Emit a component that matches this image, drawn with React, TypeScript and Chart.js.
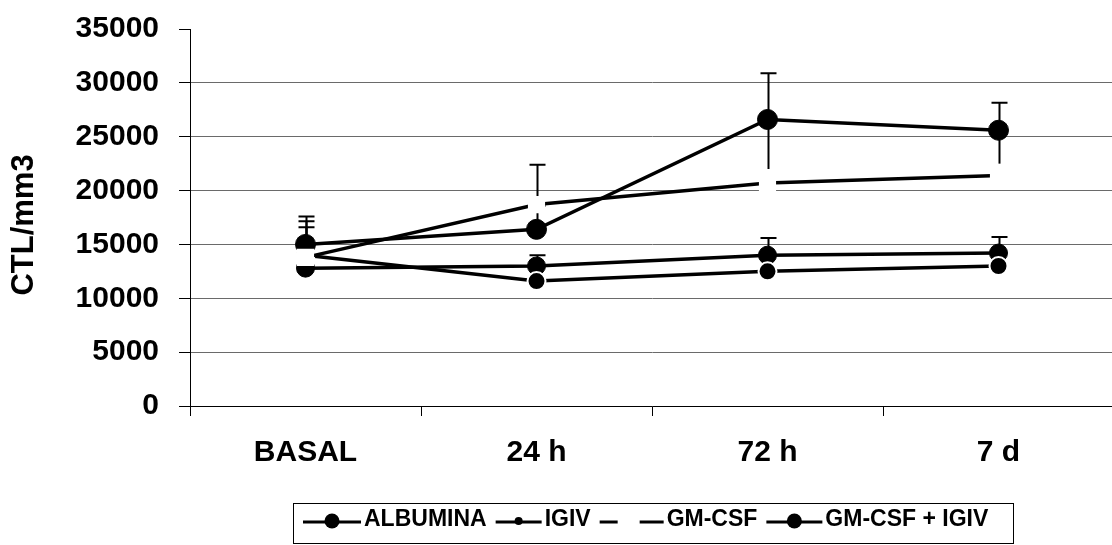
import React, { useEffect, useRef } from 'react';
import { Chart, registerables } from 'chart.js';

Chart.register(...registerables);

// ---- data ----
const categories = ['BASAL', '24 h', '72 h', '7 d'];
const seriesNames = ['ALBUMINA', 'IGIV', 'GM-CSF', 'GM-CSF + IGIV'];
const albumina = [12800, 13000, 14000, 14200];
const albuminaErr = [3800, 1000, 1600, 1500];
const igiv = [14000, 11600, 12500, 13000];
const igivErr = [0, 0, 0, 0];
const gmcsf = [13800, 18700, 20700, 21400];
const gmcsfErr = [3350, 3700, 0, 0];
const gmcsfIgiv = [15000, 16400, 26600, 25600];
const gmcsfIgivErr = [2600, 2200, 4300, 2550];
const gmcsfIgivErrLow = [0, 0, 4600, 3100];
const yMin = 0;
const yMax = 35000;
const yStep = 5000;
const yTitle = 'CTL/mm3';

const FONT = '"Liberation Sans", Arial, sans-serif';

const errorBarsPlugin = {
  id: 'errorBars',
  beforeDatasetsDraw(chart: any) {
    const { ctx, scales } = chart;
    const y = scales.y;
    ctx.save();
    ctx.strokeStyle = '#000';
    ctx.lineWidth = 2;
    chart.data.datasets.forEach((ds: any, i: number) => {
      const errs: number[] = ds.errors;
      if (!errs) return;
      const lows: number[] = ds.errorsLow || [];
      const meta = chart.getDatasetMeta(i);
      meta.data.forEach((pt: any, j: number) => {
        const e = errs[j];
        const lo = lows[j] || 0;
        const v = ds.data[j];
        const px = Math.round(pt.x) + 0.5;
        const yc = y.getPixelForValue(v);
        if (e) {
          const yt = y.getPixelForValue(v + e);
          ctx.beginPath();
          ctx.moveTo(px, yc);
          ctx.lineTo(px, yt);
          ctx.moveTo(px - 8, yt);
          ctx.lineTo(px + 8, yt);
          ctx.stroke();
        }
        if (lo) {
          const yb = y.getPixelForValue(v - lo);
          ctx.beginPath();
          ctx.moveTo(px, yc);
          ctx.lineTo(px, yb);
          ctx.stroke();
        }
      });
    });
    ctx.restore();
  },
};

const titlePlugin = {
  id: 'yTitle',
  afterDraw(chart: any) {
    const ctx = chart.ctx;
    ctx.save();
    ctx.translate(24, 225);
    ctx.rotate(-Math.PI / 2);
    ctx.font = `bold 31px ${FONT}`;
    ctx.fillStyle = '#000';
    ctx.textAlign = 'center';
    ctx.textBaseline = 'middle';
    ctx.fillText(yTitle, 0, 0);
    ctx.restore();
  },
};

const legendPlugin = {
  id: 'boxLegend',
  afterDraw(chart: any) {
    const ctx = chart.ctx;
    ctx.save();
    ctx.strokeStyle = '#000';
    ctx.lineWidth = 1;
    ctx.strokeRect(293.5, 503.5, 720, 40);
    ctx.font = `bold 23px ${FONT}`;
    ctx.fillStyle = '#000';
    ctx.textBaseline = 'alphabetic';
    ctx.textAlign = 'left';
    const symbols = [
      { kind: 'dot', w: 58, r: 7.5 },
      { kind: 'dot', w: 46, r: 4 },
      { kind: 'dash', w: 64, r: 0 },
      { kind: 'dot', w: 56, r: 7.5 },
    ];
    const lineY = 522;
    const textY = 526;
    let x = 303;
    seriesNames.forEach((name, i) => {
      const s = symbols[i];
      ctx.lineWidth = 3;
      ctx.beginPath();
      if (s.kind === 'dash') {
        ctx.moveTo(x, lineY);
        ctx.lineTo(x + 18, lineY);
        ctx.moveTo(x + 40, lineY);
        ctx.lineTo(x + s.w, lineY);
        ctx.stroke();
      } else {
        ctx.moveTo(x, lineY);
        ctx.lineTo(x + s.w, lineY);
        ctx.stroke();
        ctx.beginPath();
        ctx.arc(x + s.w / 2, lineY - 1, s.r, 0, Math.PI * 2);
        ctx.fill();
      }
      x += s.w + 3;
      ctx.fillText(name, x, textY);
      x += ctx.measureText(name).width + 9;
    });
    ctx.restore();
  },
};

export default function App() {
  const ref = useRef<HTMLCanvasElement | null>(null);

  useEffect(() => {
    if (!ref.current) return;
    const yTicks: number[] = [];
    for (let v = yMin; v <= yMax; v += yStep) yTicks.push(v);

    const chart = new Chart(ref.current, {
      type: 'line',
      data: {
        labels: categories,
        datasets: [
          {
            label: seriesNames[0],
            data: albumina,
            errors: albuminaErr,
            borderColor: '#000',
            backgroundColor: '#000',
            borderWidth: 3.5,
            pointRadius: 9,
            pointBackgroundColor: '#000',
            pointBorderColor: '#000',
            pointBorderWidth: 1,
            tension: 0,
            order: 4,
          } as any,
          {
            label: seriesNames[1],
            data: igiv,
            errors: igivErr,
            borderColor: '#000',
            backgroundColor: '#000',
            borderWidth: 3.5,
            pointRadius: 9,
            pointBackgroundColor: '#000',
            pointBorderColor: '#fff',
            pointBorderWidth: 2,
            tension: 0,
            order: 3,
          } as any,
          {
            label: seriesNames[2],
            data: gmcsf,
            errors: gmcsfErr,
            borderColor: '#000',
            backgroundColor: '#fff',
            borderWidth: 3.5,
            pointStyle: 'rect',
            pointRadius: 10,
            pointBackgroundColor: '#fff',
            pointBorderColor: '#fff',
            pointBorderWidth: 3,
            tension: 0,
            order: 1,
          } as any,
          {
            label: seriesNames[3],
            data: gmcsfIgiv,
            errors: gmcsfIgivErr,
            errorsLow: gmcsfIgivErrLow,
            borderColor: '#000',
            backgroundColor: '#000',
            borderWidth: 3.5,
            pointRadius: 10,
            pointBackgroundColor: '#000',
            pointBorderColor: '#000',
            pointBorderWidth: 1,
            tension: 0,
            order: 2,
          } as any,
        ],
      },
      options: {
        responsive: false,
        animation: false,
        events: [],
        layout: { autoPadding: false, padding: { top: 29, right: 2, bottom: 0, left: 0 } },
        plugins: {
          legend: { display: false },
          tooltip: { enabled: false },
        },
        scales: {
          x: {
            type: 'category',
            offset: true,
            afterFit(scale: any) {
              scale.height = 139;
              scale.paddingLeft = 0;
              scale.paddingRight = 0;
            },
            grid: {
              offset: true,
              drawOnChartArea: false,
              drawTicks: true,
              tickLength: 10,
              tickColor: '#000',
              tickWidth: 1,
            },
            border: { display: true, color: '#000', width: 1 },
            ticks: {
              color: '#000',
              padding: 19,
              maxRotation: 0,
              font: { family: FONT, size: 30, weight: 'bold' },
            },
          },
          y: {
            min: yMin,
            max: yMax,
            afterFit(scale: any) {
              scale.width = 190;
              scale.paddingTop = 0;
              scale.paddingBottom = 0;
            },
            afterBuildTicks(scale: any) {
              scale.ticks = yTicks.map((v) => ({ value: v }));
            },
            grid: {
              color: (c: any) => (c.tick && c.tick.value === yMax ? 'rgba(0,0,0,0)' : '#6a6a6a'),
              lineWidth: 1,
              drawTicks: true,
              tickLength: 11,
              tickColor: '#000',
              tickWidth: 1,
            },
            border: { display: true, color: '#000', width: 1 },
            ticks: {
              color: '#000',
              padding: 20,
              font: { family: FONT, size: 30, weight: 'bold' },
              callback: (v: any) => String(v),
            },
            title: { display: false },
          },
        },
      } as any,
      plugins: [errorBarsPlugin, titlePlugin, legendPlugin],
    });
    return () => chart.destroy();
  }, []);

  return (
    <div
      style={{
        position: 'absolute',
        left: 0,
        top: 0,
        width: 1112,
        height: 545,
        overflow: 'hidden',
        background: '#fff',
      }}
    >
      <canvas ref={ref} width={1116} height={545} style={{ display: 'block' }} />
    </div>
  );
}
